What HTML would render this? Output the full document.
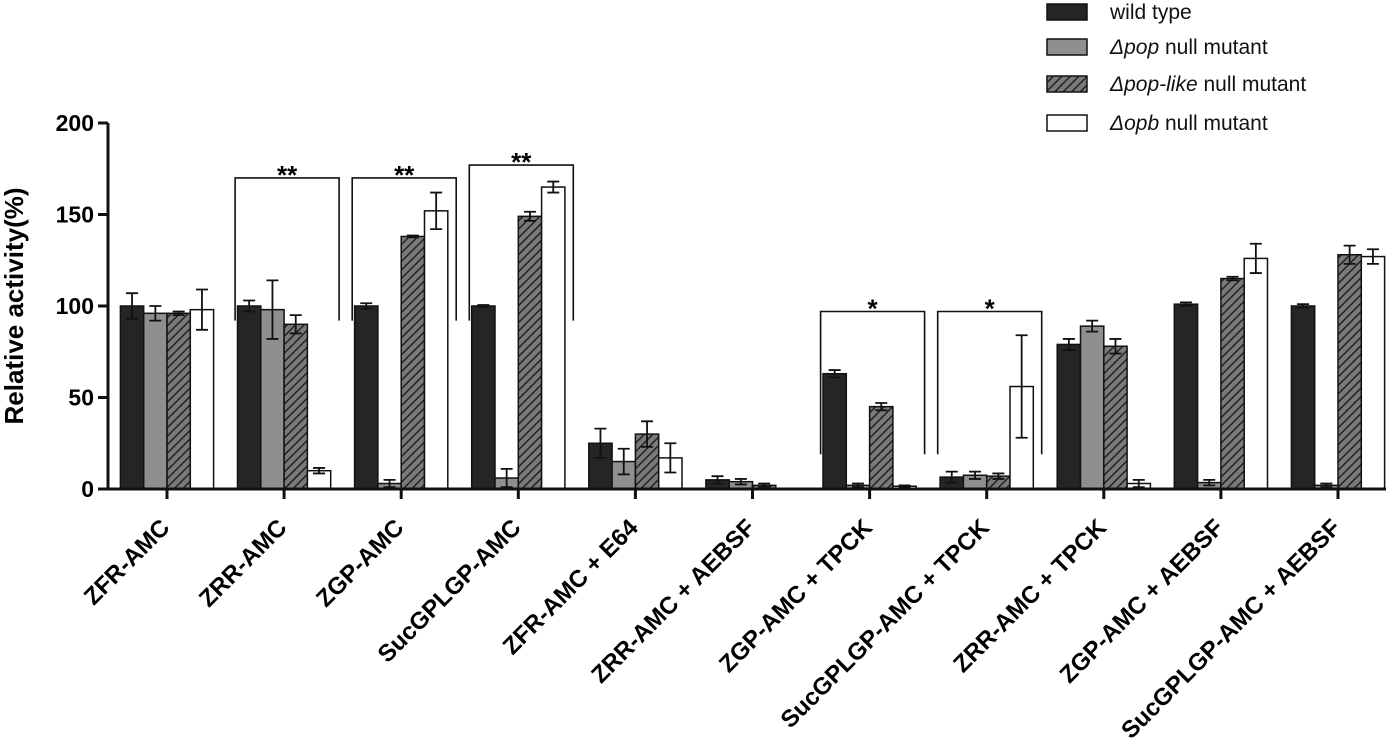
<!DOCTYPE html>
<html><head><meta charset="utf-8"><style>
html,body{margin:0;padding:0;background:#fff;}
svg{display:block;font-family:"Liberation Sans",Arial,sans-serif;}
</style></head><body>
<svg id="chart" width="1400" height="751" viewBox="0 0 1400 751">
<defs>
<pattern id="hatch" patternUnits="userSpaceOnUse" width="6" height="6" patternTransform="rotate(45)">
<rect width="6" height="6" fill="#7a7a7a"/><line x1="0" y1="0" x2="0" y2="6" stroke="#222" stroke-width="3"/>
</pattern>
</defs>
<g id="bars"></g>
<g id="axes"></g>
<g id="legend"></g>
</svg>
<script>
const categories=["ZFR-AMC","ZRR-AMC","ZGP-AMC","SucGPLGP-AMC","ZFR-AMC + E64","ZRR-AMC + AEBSF","ZGP-AMC + TPCK","SucGPLGP-AMC + TPCK","ZRR-AMC + TPCK","ZGP-AMC + AEBSF","SucGPLGP-AMC + AEBSF"];
const seriesNames=["wild type","Δpop null mutant","Δpop-like null mutant","Δopb null mutant"];
const wildType=[100,100,100,100,25,5,63,6.5,79,101,100];
const wildTypeErr=[7,3,1.5,0.5,8,2,2,3,3,1,1];
const pop=[96,98,3,6,15,4,2,7.5,89,3.5,2];
const popErr=[4,16,2,5,7,1.5,1,2,3,1.5,1];
const popLike=[96,90,138,149,30,2,45,7,78,115,128];
const popLikeErr=[1,5,0.5,2.5,7,1,2,1.5,4,1,5];
const opb=[98,10,152,165,17,0,1.5,56,3,126,127];
const opbErr=[11,1.5,10,3,8,0,0.5,28,2,8,4];
const yTicks=[0,50,100,150,200];
const brackets=[[1,170,92,"**"],[2,170,92,"**"],[3,177,92,"**"],[6,97,19,"*"],[7,97,19,"*"]];

const NS="http://www.w3.org/2000/svg";
const y0=489,ppu=1.83,axX=108;
const yScale=v=>y0-v*ppu;
const xCenter=i=>167+117.1*i;
const bw=23.3;
function mk(tag,attrs,parent){const e=document.createElementNS(NS,tag);for(const k in attrs)e.setAttribute(k,attrs[k]);parent.appendChild(e);return e;}
const gb=document.getElementById('bars'),ga=document.getElementById('axes'),gl=document.getElementById('legend');
const vals=[wildType,pop,popLike,opb],errs=[wildTypeErr,popErr,popLikeErr,opbErr];
const fills=["#252525","#8f8f8f","url(#hatch)","#ffffff"];
const keys=["wild-type","pop","pop-like","opb"];
categories.forEach((c,i)=>{
  const cx=xCenter(i);
  for(let s=0;s<4;s++){
    const v=vals[s][i],e=errs[s][i];
    const x=cx-2*bw+s*bw;
    const r=mk('rect',{x:x,y:yScale(v),width:bw,height:v*ppu,fill:fills[s],stroke:"#111","stroke-width":1.5},gb);
    
    
    if(e>0){
      const m=x+bw/2;
      const eb=mk('path',{d:`M${m} ${yScale(v+e)}V${yScale(v-e)}M${m-6} ${yScale(v+e)}h12M${m-6} ${yScale(v-e)}h12`,stroke:"#111","stroke-width":1.8,fill:"none"},gb);
      
      
    }
  }
  const t=mk('line',{x1:cx,y1:y0,x2:cx,y2:y0+10,stroke:"#111","stroke-width":3},ga);
  
  
  const lx=cx+4,ly=y0+40;
  const lb=mk('text',{x:lx,y:ly,"text-anchor":"end","font-size":24,"font-weight":"bold",transform:`rotate(-45 ${lx} ${ly})`},ga);
  lb.textContent=c;
  
  
});
brackets.forEach(b=>{
  const cx=xCenter(b[0]);const l=cx-49,r=cx+55;
  const p=mk('path',{d:`M${l} ${yScale(b[2])}V${yScale(b[1])}H${r}V${yScale(b[2])}`,stroke:"#111","stroke-width":1.6,fill:"none"},gb);
  
  
  const t=mk('text',{x:(l+r)/2,y:yScale(b[1])+6,"text-anchor":"middle","font-size":26,"font-weight":"bold"},gb);
  t.textContent=b[3];
  
  
});
const yl=mk('line',{x1:axX,y1:yScale(200),x2:axX,y2:y0,stroke:"#111","stroke-width":3},ga);


const xl=mk('line',{x1:axX-1,y1:y0,x2:1386,y2:y0,stroke:"#111","stroke-width":3},ga);


yTicks.forEach(v=>{
  const tk=mk('line',{x1:axX-10,y1:yScale(v),x2:axX,y2:yScale(v),stroke:"#111","stroke-width":3},ga);
  
  
  const t=mk('text',{x:axX-14,y:yScale(v)+8,"text-anchor":"end","font-size":23,"font-weight":"bold"},ga);
  t.textContent=v;
  
  
});
const yt=mk('text',{x:23,y:306,"text-anchor":"middle","font-size":26,"font-weight":"bold",transform:"rotate(-90 23 306)"},ga);
yt.textContent="Relative activity(%)";


const ly=[12,47,84,123];
seriesNames.forEach((n,s)=>{
  const r=mk('rect',{x:1047,y:ly[s]-8,width:40,height:16,fill:fills[s],stroke:"#111","stroke-width":1.5},gl);
  
  
  const t=mk('text',{x:1110,y:ly[s]+7,"font-size":21,fill:"#111"},gl);
  
  
  if(s===0){t.textContent=n;}else{
    const parts=n.split(' null');
    const it=mk('tspan',{"font-style":"italic"},t);it.textContent=parts[0];
    const rest=mk('tspan',{},t);rest.textContent=' null'+parts[1];
  }
});
</script>
</body></html>
